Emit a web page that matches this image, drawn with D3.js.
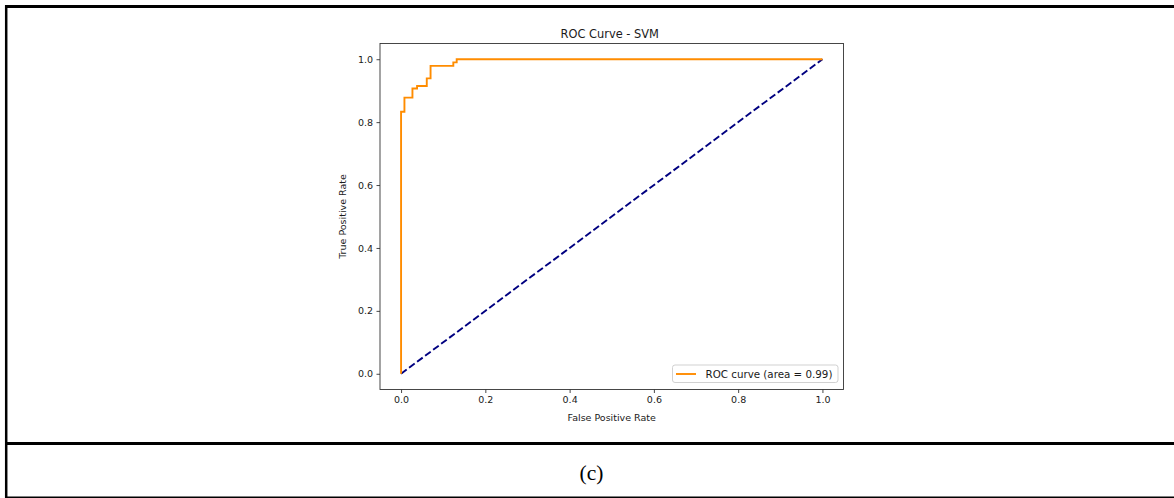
<!DOCTYPE html>
<html>
<head>
<meta charset="utf-8">
<script src="https://cdn.jsdelivr.net/npm/d3@7/dist/d3.min.js"></script>
<style>
  html, body { margin: 0; padding: 0; background: #fff; }
  svg { display: block; }
  text { font-family: "DejaVu Sans", sans-serif; fill: #1a1a1a; }
</style>
</head>
<body>
<svg id="chart" width="1174" height="498"></svg>
<script>
// ROC curve data (false positive rate, true positive rate)
const fpr = [0.000, 0.000, 0.008, 0.008, 0.027, 0.027, 0.038, 0.038, 0.061, 0.061, 0.070, 0.070, 0.124, 0.124, 0.132, 0.132, 1.000];
const tpr = [0.000, 0.833, 0.833, 0.878, 0.878, 0.907, 0.907, 0.915, 0.915, 0.939, 0.939, 0.979, 0.979, 0.990, 0.990, 1.000, 1.000];
// chance diagonal
const diagX = [0, 1];
const diagY = [0, 1];
const xTicks = [0.0, 0.2, 0.4, 0.6, 0.8, 1.0];
const yTicks = [0.0, 0.2, 0.4, 0.6, 0.8, 1.0];
const titleText = "ROC Curve - SVM";
const xLabelText = "False Positive Rate";
const yLabelText = "True Positive Rate";
const legendText = "ROC curve (area = 0.99)";
const captionText = "(c)";

const svg = d3.select("#chart");
svg.append("rect").attr("width", 1174).attr("height", 498).attr("fill", "#fff");

// frame lines (table)
const frame = svg.append("g").attr("stroke", "#000");
frame.append("line").attr("x1", 5).attr("x2", 1174).attr("y1", 6.5).attr("y2", 6.5).attr("stroke-width", 3);
frame.append("line").attr("x1", 6.2).attr("x2", 6.2).attr("y1", 5).attr("y2", 498).attr("stroke-width", 2.5);
frame.append("line").attr("x1", 5).attr("x2", 1174).attr("y1", 443.5).attr("y2", 443.5).attr("stroke-width", 3);
frame.append("line").attr("x1", 5).attr("x2", 1174).attr("y1", 497.2).attr("y2", 497.2).attr("stroke-width", 1.6);

// plot
const pLeft = 380, pRight = 843.5, pTop = 43.5, pBottom = 389.5;
const x = d3.scaleLinear().domain([-0.05, 1.05]).range([pLeft, pRight]);
const y = d3.scaleLinear().domain([-0.05, 1.05]).range([pBottom, pTop]);

const plot = svg.append("g");

// diagonal dashed navy
plot.append("path")
  .datum(diagX.map((d, i) => [d, diagY[i]]))
  .attr("d", d3.line().x(d => x(d[0])).y(d => y(d[1])))
  .attr("fill", "none").attr("stroke", "#000080").attr("stroke-width", 1.9)
  .attr("stroke-dasharray", "7,3");

// ROC curve
plot.append("path")
  .datum(fpr.map((d, i) => [d, tpr[i]]))
  .attr("d", d3.line().x(d => x(d[0])).y(d => y(d[1])))
  .attr("fill", "none").attr("stroke", "#ff8c00").attr("stroke-width", 1.9)
  .attr("stroke-linejoin", "miter");

// axes
const xAxis = d3.axisBottom(x).tickValues(xTicks).tickFormat(d3.format(".1f")).tickSize(3.5).tickPadding(3.5);
const yAxis = d3.axisLeft(y).tickValues(yTicks).tickFormat(d3.format(".1f")).tickSize(3.5).tickPadding(3.5);

const gx = svg.append("g").attr("transform", `translate(0,${pBottom})`).call(xAxis);
const gy = svg.append("g").attr("transform", `translate(${pLeft},0)`).call(yAxis);
[gx, gy].forEach(g => {
  g.select(".domain").remove();
  g.selectAll(".tick line").attr("stroke", "#333").attr("stroke-width", 0.9);
  g.selectAll(".tick text").attr("font-size", 9.5).attr("font-family", "DejaVu Sans").attr("fill", "#1a1a1a");
});

// spines
svg.append("rect").attr("x", pLeft).attr("y", pTop).attr("width", pRight - pLeft).attr("height", pBottom - pTop)
  .attr("fill", "none").attr("stroke", "#333").attr("stroke-width", 0.9);

// title and labels
svg.append("text").attr("x", (pLeft + pRight) / 2 - 2).attr("y", 37.5).attr("text-anchor", "middle")
  .attr("font-size", 11.4).text(titleText);
svg.append("text").attr("x", (pLeft + pRight) / 2).attr("y", 421).attr("text-anchor", "middle")
  .attr("font-size", 9.5).text(xLabelText);
svg.append("text").attr("transform", `translate(346,${(pTop + pBottom) / 2}) rotate(-90)`)
  .attr("text-anchor", "middle").attr("font-size", 9.5).text(yLabelText);

// legend
const lg = svg.append("g");
lg.append("rect").attr("x", 672.5).attr("y", 365).attr("width", 165.5).attr("height", 17.5)
  .attr("rx", 2.5).attr("fill", "#fff").attr("fill-opacity", 0.8).attr("stroke", "#ccc").attr("stroke-width", 0.9);
lg.append("line").attr("x1", 676).attr("x2", 696).attr("y1", 374).attr("y2", 374)
  .attr("stroke", "#ff8c00").attr("stroke-width", 1.9);
lg.append("text").attr("x", 705.5).attr("y", 377.6).attr("font-size", 10.3).text(legendText);

// caption
svg.append("text").attr("x", 591.5).attr("y", 479.5).attr("text-anchor", "middle")
  .style("font-family", "'Liberation Serif', 'Times New Roman', serif").attr("font-size", 21.5).style("fill", "#000")
  .text(captionText);
</script>
</body>
</html>
